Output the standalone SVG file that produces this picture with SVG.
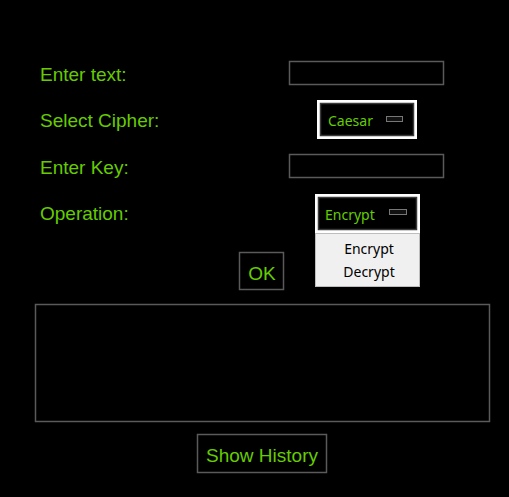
<svg xmlns="http://www.w3.org/2000/svg" width="509" height="497" viewBox="0 0 509 497">
<style>
.lbl{font-family:"Liberation Sans",Arial,sans-serif;font-size:19px;fill:#66cc00}
.ent{fill:#000;stroke:#5a5a5a;stroke-width:1.5}
.mb-out{fill:#fff}
.mb-in{fill:#000;stroke:#3a3a3a;stroke-width:1.5}
.mtxt{font-family:"Noto Sans","Open Sans",sans-serif;font-size:14px;fill:#66cc00}
.ind{fill:#111;stroke:#777;stroke-width:1}
.dtxt{font-family:"Noto Sans","Open Sans",sans-serif;font-size:14px;fill:#000}
</style>
<rect width="509" height="497" fill="#000"/>
<g id="label-text"><text class="lbl" x="40" y="81">Enter text:</text></g>
<g id="label-cipher"><text class="lbl" x="40" y="127">Select Cipher:</text></g>
<g id="label-key"><text class="lbl" x="40" y="174">Enter Key:</text></g>
<g id="label-op"><text class="lbl" x="40" y="220">Operation:</text></g>
<g id="entry-text"><rect class="ent" x="289.5" y="61.5" width="154" height="23"/></g>
<g id="cipher-menu">
<rect class="mb-out" x="317" y="100" width="100" height="39"/>
<rect class="mb-in" x="320.5" y="103.5" width="93" height="32"/>
<text class="mtxt" x="328" y="126">Caesar</text>
<rect class="ind" x="386.5" y="116.5" width="16" height="5"/>
</g>
<g id="entry-key"><rect class="ent" x="289.5" y="154.5" width="154" height="23"/></g>
<g id="op-menu">
<rect class="mb-out" x="315" y="194" width="105" height="39"/>
<rect class="mb-in" x="318.5" y="197.5" width="98" height="32"/>
<text class="mtxt" x="325" y="220">Encrypt</text>
<rect class="ind" x="389.5" y="209.5" width="17" height="5"/>
</g>
<g id="dropdown">
<rect x="315.5" y="233.5" width="104" height="53" fill="#f0f0f0" stroke="#bdbdbd" stroke-width="1"/>
<text class="dtxt" x="369" y="254" text-anchor="middle">Encrypt</text>
<text class="dtxt" x="369" y="277" text-anchor="middle">Decrypt</text>
</g>
<g id="ok-button">
<rect class="ent" x="239.5" y="252.5" width="44" height="37"/>
<text class="lbl" x="262" y="280" text-anchor="middle">OK</text>
</g>
<g id="output-box"><rect class="ent" x="35.5" y="304.5" width="454" height="117"/></g>
<g id="history-button">
<rect class="ent" x="197.5" y="434.5" width="129" height="38"/>
<text class="lbl" x="262" y="462" text-anchor="middle">Show History</text>
</g>
<g id="connectors"/>
</svg>
